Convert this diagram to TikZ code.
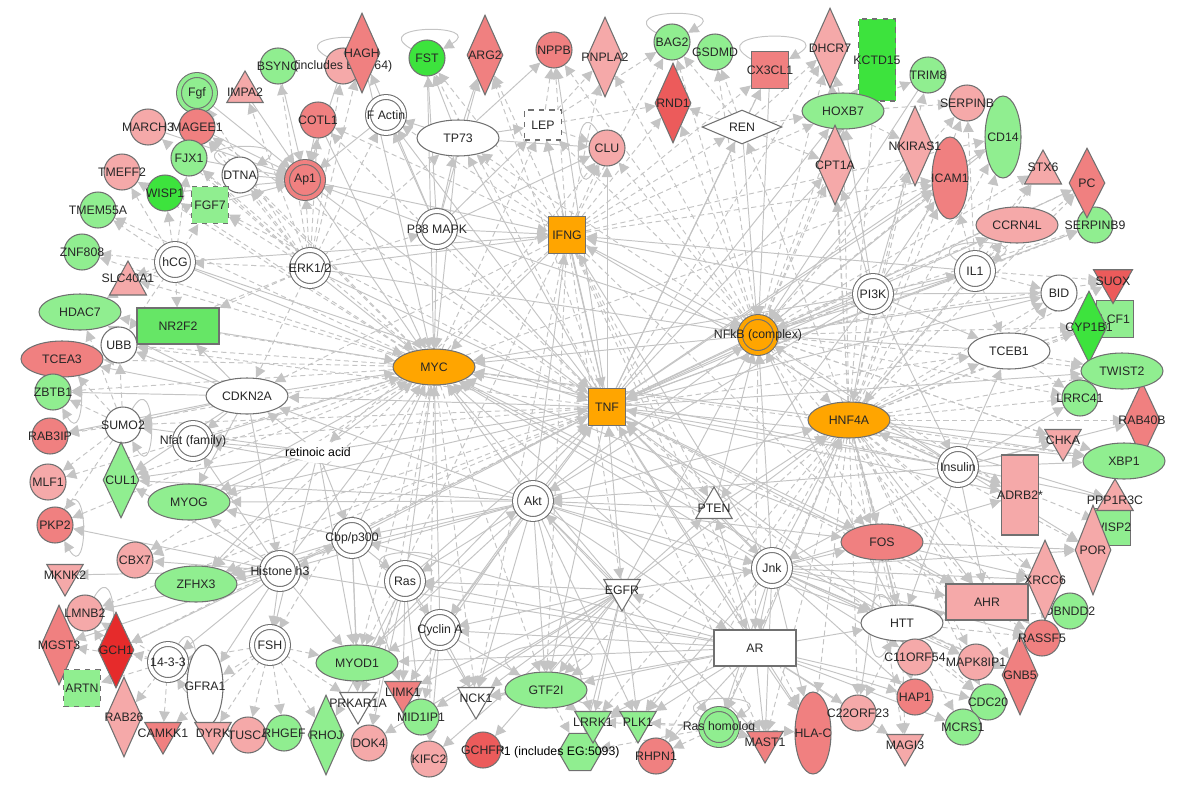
\documentclass[tikz,border=0pt]{standalone}
\usepackage{fontspec}
\setmainfont{Liberation Sans}
\usetikzlibrary{shapes.geometric, arrows.meta, backgrounds}

\definecolor{upL}{HTML}{F5A9A9}
\definecolor{upM}{HTML}{F08080}
\definecolor{upH}{HTML}{EC5B5B}
\definecolor{upX}{HTML}{E62B2B}
\definecolor{dnL}{HTML}{90EE90}
\definecolor{dnM}{HTML}{66E666}
\definecolor{dnH}{HTML}{3DE33D}
\definecolor{hub}{HTML}{FFA500}
\definecolor{rim}{HTML}{707070}
\definecolor{wire}{HTML}{C4C4C4}

\newcommand{\nm}[1]{\makebox[0pt]{#1}}

\begin{document}
\begin{tikzpicture}[
    x=0.02cm, y=-0.02cm,
    font=\fontsize{7}{8}\selectfont,
    base/.style={draw=rim, line width=0.6pt, inner sep=0pt, text=black!85},
    gc/.style={base, circle, minimum size=0.72cm},
    gdc/.style={gc, fill=#1, double=#1, double distance=2.2pt},
    ell/.style={base, ellipse, minimum width=1.64cm, minimum height=0.72cm},
    vell/.style={base, ellipse, minimum width=0.72cm, minimum height=1.64cm},
    dia/.style={base, diamond, minimum width=0.72cm, minimum height=1.6cm},
    box/.style={base, rectangle, minimum width=1.64cm, minimum height=0.72cm},
    vbox/.style={base, rectangle, minimum width=0.74cm, minimum height=1.6cm},
    sq/.style={base, rectangle, minimum size=0.74cm},
    tup/.style={base, regular polygon, regular polygon sides=3, minimum size=0.84cm},
    tdn/.style={tup, shape border rotate=180},
    trap/.style={base, trapezium, trapezium left angle=75, trapezium right angle=75,
        trapezium stretches=true, minimum width=0.74cm, minimum height=0.68cm},
    hexa/.style={base, regular polygon, regular polygon sides=6, minimum size=0.86cm},
    arr/.style={draw=wire, line width=0.55pt, -{Triangle[length=6pt, width=6pt]}},
    ind/.style={arr, dash pattern=on 3pt off 2pt},
    selfl/.style={draw=wire, line width=0.55pt, -{Triangle[length=6pt, width=6pt]}},
    every loop/.style={min distance=0.9cm, looseness=4}
]
\useasboundingbox (0,0) rectangle (1200,791);

    % Top arc ===========================
    \node[gc, fill=dnL] (BSYNC) at (278,66) {\nm{BSYNC}};
    \node[gc, fill=upL] (INCL) at (343,66) {\nm{(includes EG:564)}};
    \node[dia, fill=upM] (HAGH) at (362,53) {\nm{HAGH}};
    \node[gc, fill=dnH] (FST) at (427,58) {\nm{FST}};
    \node[dia, fill=upM] (ARG2) at (485,55) {\nm{ARG2}};
    \node[gc, fill=upM] (NPPB) at (554,50) {\nm{NPPB}};
    \node[dia, fill=upL] (PNPLA2) at (605,57) {\nm{PNPLA2}};
    \node[gc, fill=dnL] (BAG2) at (672,42) {\nm{BAG2}};
    \node[gc, fill=dnL] (GSDMD) at (715,52) {\nm{GSDMD}};
    \node[sq, fill=upM] (CX3CL1) at (770,70) {\nm{CX3CL1}};
    \node[dia, fill=upL] (DHCR7) at (830,48) {\nm{DHCR7}};
    \node[vbox, fill=dnH, dashed, minimum height=1.64cm] (KCTD15) at (877,60) {\nm{KCTD15}};
    \node[dia, fill=upH] (RND1) at (673,103) {\nm{RND1}};
    \node[ell, fill=dnL] (HOXB7) at (843,111) {\nm{HOXB7}};
    \node[dia, fill=white, minimum width=1.6cm, minimum height=0.68cm] (REN) at (742,127) {\nm{REN}};
    \node[sq, fill=white, dashed, minimum height=0.6cm] (LEP) at (543,125) {\nm{LEP}};
    \node[gc, fill=upL] (CLU) at (607,148) {\nm{CLU}};
    \node[dia, fill=upL] (CPT1A) at (835,165) {\nm{CPT1A}};
    \node[ell, fill=white] (TP73) at (458,138) {\nm{TP73}};
    \node[gdc=white] (FActin) at (386,115) {\nm{F Actin}};
    \node[gc, fill=upM] (COTL1) at (318,120) {\nm{COTL1}};

    % Upper left ===========================
    \node[tup, fill=upL] (IMPA2) at (245,92) {\nm{IMPA2}};
    \node[gdc=dnL] (Fgf) at (197,93) {\nm{Fgf}};
    \node[gc, fill=upL] (MARCH3) at (148,127) {\nm{MARCH3}};
    \node[gc, fill=upM] (MAGEE1) at (197,127) {\nm{MAGEE1}};
    \node[gc, fill=dnL] (FJX1) at (189,158) {\nm{FJX1}};
    \node[gc, fill=upL] (TMEFF2) at (122,172) {\nm{TMEFF2}};
    \node[gc, fill=white] (DTNA) at (240,175) {\nm{DTNA}};
    \node[gdc=upM] (Ap1) at (305,180) {\nm{Ap1}};
    \node[gc, fill=dnH] (WISP1) at (165,193) {\nm{WISP1}};
    \node[sq, fill=dnL, dashed] (FGF7) at (210,205) {\nm{FGF7}};
    \node[gc, fill=dnL] (TMEM55A) at (98,210) {\nm{TMEM55A}};
    \node[gc, fill=dnL] (ZNF808) at (82,252) {\nm{ZNF808}};
    \node[trap, fill=upL] (SLC40A1) at (128,278) {\nm{SLC40A1}};
    \node[gdc=white] (hCG) at (175,262) {\nm{hCG}};
    \node[gdc=white] (ERK) at (310,268) {\nm{ERK1/2}};
    \node[gdc=white] (P38) at (437,229) {\nm{P38 MAPK}};

    % Left side ===========================
    \node[ell, fill=dnL] (HDAC7) at (80,312) {\nm{HDAC7}};
    \node[box, fill=dnM] (NR2F2) at (178,326) {\nm{NR2F2}};
    \node[gc, fill=white] (UBB) at (119,345) {\nm{UBB}};
    \node[ell, fill=upM] (TCEA3) at (62,359) {\nm{TCEA3}};
    \node[gc, fill=dnL] (ZBTB1) at (53,392) {\nm{ZBTB1}};
    \node[gc, fill=upM] (RAB3IP) at (50,436) {\nm{RAB3IP}};
    \node[gc, fill=white] (SUMO2) at (123,425) {\nm{SUMO2}};
    \node[gdc=white] (Nfat) at (193,441) {\nm{Nfat (family)}};
    \node[ell, fill=white] (CDKN2A) at (247,396) {\nm{CDKN2A}};
    \node[dia, fill=dnL, minimum height=1.52cm] (CUL1) at (121,480) {\nm{CUL1}};
    \node[gc, fill=upL] (MLF1) at (48,482) {\nm{MLF1}};
    \node[ell, fill=dnL] (MYOG) at (189,502) {\nm{MYOG}};
    \node[gc, fill=upM] (PKP2) at (55,525) {\nm{PKP2}};
    \node[ellipse, fill=white, inner sep=0pt, minimum width=1cm, minimum height=0.44cm] (RA) at (318,452) {\nm{retinoic acid}};

    % Centre hubs ===========================
    \node[sq, fill=hub] (IFNG) at (567,235) {\nm{IFNG}};
    \node[ell, fill=hub] (MYC) at (434,367) {\nm{MYC}};
    \node[sq, fill=hub] (TNF) at (607,407) {\nm{TNF}};
    \node[gdc=hub] (NFkB) at (758,335) {\nm{NFkB (complex)}};
    \node[ell, fill=hub] (HNF4A) at (849,420) {\nm{HNF4A}};
    \node[gdc=white] (PI3K) at (873,294) {\nm{PI3K}};
    \node[gdc=white] (IL1) at (975,271) {\nm{IL1}};
    \node[gc, fill=white] (BID) at (1059,293) {\nm{BID}};
    \node[ell, fill=white] (TCEB1) at (1009,351) {\nm{TCEB1}};
    \node[gdc=white] (Insulin) at (958,467) {\nm{Insulin}};
    \node[gdc=white] (Akt) at (533,501) {\nm{Akt}};
    \node[tup, fill=white] (PTEN) at (714,508) {\nm{PTEN}};
    \node[tdn, fill=white] (EGFR) at (622,590) {\nm{EGFR}};
    \node[gdc=white] (Jnk) at (772,568) {\nm{Jnk}};
    \node[box, fill=white] (AR) at (755,648) {\nm{AR}};
    \node[ell, fill=white] (HTT) at (902,623) {\nm{HTT}};
    \node[ell, fill=upM] (FOS) at (882,542) {\nm{FOS}};
    \node[gdc=white] (Cbp) at (352,538) {\nm{Cbp/p300}};
    \node[gdc=white] (Ras) at (405,581) {\nm{Ras}};
    \node[gdc=white] (CyclinA) at (440,630) {\nm{Cyclin A}};
    \node[gdc=white] (Histone) at (280,571) {\nm{Histone h3}};

    % Lower left ===========================
    \node[gc, fill=upL] (CBX7) at (135,560) {\nm{CBX7}};
    \node[tdn, fill=upL] (MKNK2) at (65,575) {\nm{MKNK2}};
    \node[ell, fill=dnL] (ZFHX3) at (196,584) {\nm{ZFHX3}};
    \node[gc, fill=upL] (LMNB2) at (85,613) {\nm{LMNB2}};
    \node[dia, fill=upM] (MGST3) at (59,645) {\nm{MGST3}};
    \node[dia, fill=upX, minimum height=1.52cm] (GCH1) at (116,650) {\nm{GCH1}};
    \node[sq, fill=dnL, dashed] (ARTN) at (82,688) {\nm{ARTN}};
    \node[gdc=white] (n1433) at (168,662) {\nm{14-3-3}};
    \node[vell, fill=white] (GFRA1) at (205,686) {\nm{GFRA1}};
    \node[gdc=white] (FSH) at (270,645) {\nm{FSH}};
    \node[dia, fill=upL] (RAB26) at (124,717) {\nm{RAB26}};
    \node[tdn, fill=upM] (CAMKK1) at (163,733) {\nm{CAMKK1}};
    \node[tdn, fill=upL] (DYRK) at (213,733) {\nm{DYRK}};
    \node[gc, fill=upL] (TUSC4) at (248,735) {\nm{TUSC4}};
    \node[gc, fill=dnL] (RHGEF) at (284,733) {\nm{RHGEF}};
    \node[dia, fill=dnL] (RHOJ) at (326,735) {\nm{RHOJ}};

    % Bottom ===========================
    \node[ell, fill=dnL] (MYOD1) at (357,663) {\nm{MYOD1}};
    \node[tdn, fill=white] (PRKAR1A) at (358,703) {\nm{PRKAR1A}};
    \node[tdn, fill=upM] (LIMK1) at (403,692) {\nm{LIMK1}};
    \node[gc, fill=dnL] (MID1IP1) at (421,717) {\nm{MID1IP1}};
    \node[gc, fill=upL] (DOK4) at (369,743) {\nm{DOK4}};
    \node[gc, fill=upL] (KIFC2) at (429,759) {\nm{KIFC2}};
    \node[tdn, fill=white] (NCK1) at (476,698) {\nm{NCK1}};
    \node[ell, fill=dnL] (GTF2I) at (546,690) {\nm{GTF2I}};
    \node[hexa, fill=dnL, label={[xshift=-0.7cm]center:\nm{PCBP1 (includes EG:5093)}}] (PCBP1) at (580,752) {};
    \node[gc, fill=upH] (GCHFR) at (483,750) {\nm{GCHFR}};
    \node[tdn, fill=dnL] (LRRK1) at (593,722) {\nm{LRRK1}};
    \node[tdn, fill=dnL] (PLK1) at (638,722) {\nm{PLK1}};
    \node[gdc=dnL] (RasHom) at (719,727) {\nm{Ras homolog}};
    \node[gc, fill=upM] (RHPN1) at (656,756) {\nm{RHPN1}};
    \node[tdn, fill=upM] (MAST1) at (765,742) {\nm{MAST1}};
    \node[vell, fill=upM] (HLAC) at (813,733) {\nm{HLA-C}};
    \node[gc, fill=upL] (C22ORF23) at (858,713) {\nm{C22ORF23}};

    % Lower right ===========================
    \node[gc, fill=upL] (C11ORF54) at (915,657) {\nm{C11ORF54}};
    \node[gc, fill=upM] (HAP1) at (915,697) {\nm{HAP1}};
    \node[tdn, fill=upL] (MAGI3) at (905,745) {\nm{MAGI3}};
    \node[gc, fill=upL] (MAPK8IP1) at (976,662) {\nm{MAPK8IP1}};
    \node[gc, fill=dnL] (CDC20) at (988,702) {\nm{CDC20}};
    \node[gc, fill=dnL] (MCRS1) at (963,727) {\nm{MCRS1}};
    \node[dia, fill=upM] (GNB5) at (1020,675) {\nm{GNB5}};
    \node[gc, fill=upM] (RASSF5) at (1042,638) {\nm{RASSF5}};
    \node[gc, fill=dnL] (DBNDD2) at (1070,611) {\nm{DBNDD2}};
    \node[dia, fill=upL] (XRCC6) at (1045,580) {\nm{XRCC6}};
    \node[box, fill=upL] (AHR) at (987,602) {\nm{AHR}};
    \node[vbox, fill=upL] (ADRB2) at (1020,495) {\nm{ADRB2*}};
    \node[sq, fill=dnL] (WISP2) at (1112,527) {\nm{WISP2}};
    \node[dia, fill=upL, minimum height=1.8cm] (POR) at (1093,550) {\nm{POR}};
    \node[tup, fill=upL] (PPP1R3C) at (1115,500) {\nm{PPP1R3C}};

    % Right side ===========================
    \node[tdn, fill=upL] (CHKA) at (1063,440) {\nm{CHKA}};
    \node[dia, fill=upM, minimum height=1.52cm] (RAB40B) at (1142,420) {\nm{RAB40B}};
    \node[ell, fill=dnL] (XBP1) at (1124,461) {\nm{XBP1}};
    \node[gc, fill=dnL] (LRRC41) at (1080,398) {\nm{LRRC41}};
    \node[sq, fill=dnL] (LCF1) at (1115,319) {\nm{LCF1}};
    \node[dia, fill=dnH, minimum height=1.44cm] (CYP1B1) at (1089,327) {\nm{CYP1B1}};
    \node[ell, fill=dnL] (TWIST2) at (1122,371) {\nm{TWIST2}};
    \node[tdn, fill=upH, minimum size=0.9cm] (SUOX) at (1113,281) {\nm{SUOX}};
    \node[gc, fill=dnL] (SERPINB9) at (1095,225) {\nm{SERPINB9}};
    \node[dia, fill=upM, minimum height=1.4cm] (PC) at (1087,183) {\nm{PC}};
    \node[trap, fill=upL] (STX6) at (1043,167) {\nm{STX6}};
    \node[ell, fill=upL] (CCRN4L) at (1017,225) {\nm{CCRN4L}};
    \node[vell, fill=dnL] (CD14) at (1003,137) {\nm{CD14}};
    \node[gc, fill=upL] (SERPINB) at (967,103) {\nm{SERPINB}};
    \node[vell, fill=upM] (ICAM1) at (950,178) {\nm{ICAM1}};
    \node[gc, fill=dnL] (TRIM8) at (928,75) {\nm{TRIM8}};
    \node[dia, fill=upL] (NKIRAS1) at (915,146) {\nm{NKIRAS1}};

    % Relations ====================
    \begin{scope}[on background layer]
    % into the hubs
    \foreach \s in {FST, HAGH, COTL1, Ap1, hCG, NR2F2, CDKN2A, Nfat, RA, MYOG, Histone, Cbp, Ras,
        CyclinA, Akt, EGFR, PTEN, AR, HNF4A, NFkB, IFNG, TP73, P38, ERK, Jnk, PI3K, Insulin, FOS, HTT}
        \draw[arr] (\s) -- (MYC);
    \foreach \s in {IFNG, NFkB, P38, ERK, Jnk, Akt, PTEN, EGFR, AR, Insulin, PI3K, IL1, Ap1, hCG,
        RA, Histone, Cbp, Ras, HTT, MYOD1}
        \draw[arr] (\s) -- (TNF);
    \foreach \s in {PI3K, IL1, Akt, Jnk, Insulin, IFNG, CX3CL1, REN, NKIRAS1, CD14, TRIM8, BID,
        TCEB1, EGFR, PTEN, P38, ERK, HTT}
        \draw[arr] (\s) -- (NFkB);
    \foreach \s in {Insulin, PI3K, IL1, Jnk, AR, PTEN, EGFR, Akt}
        \draw[arr] (\s) -- (HNF4A);
    \foreach \s in {P38, ERK, Jnk, Akt, PI3K, Insulin, IL1, Ap1, hCG}
        \draw[arr] (\s) -- (IFNG);
    \foreach \s in {COTL1, INCL, BSYNC, DTNA, FGF7, IMPA2, Fgf, MAGEE1, FActin, MARCH3, FJX1, WISP1}
        \draw[arr] (\s) -- (Ap1);
    \foreach \s in {PTEN, PI3K, Insulin, EGFR, Ras}
        \draw[arr] (\s) -- (Akt);
    \foreach \s in {EGFR, PTEN, Insulin}
        \draw[arr] (\s) -- (Jnk);

    % out of the hubs
    \foreach \t in {FJX1, WISP1, TMEFF2, UBB, CUL1, MYOD1, CLU, LEP, KIFC2, NCK1, DOK4, GTF2I,
        ICAM1, XBP1, MAGEE1, DTNA, ZFHX3, FSH, CBX7, PKP2, MLF1, RAB3IP, TCEA3, HDAC7, ZBTB1,
        SLC40A1, TMEM55A, ZNF808}
        \draw[ind] (MYC) -- (\t);
    \foreach \t in {ICAM1, CD14, CCRN4L, SERPINB9, TWIST2, XBP1, FOS, HLAC, AHR, CX3CL1, CDKN2A,
        FActin, CLU, TP73, REN, LEP, NPPB, HOXB7, CPT1A, PC, BID, ADRB2, CyclinA, GTF2I, MYOG}
        \draw[arr] (TNF) -- (\t);
    \foreach \t in {UBB, SUMO2, Nfat, TCEB1, DHCR7, ARG2, FST, COTL1, MAGEE1, FGF7, GCH1, LMNB2,
        CBX7, ZFHX3, RASSF5, CDC20, MAST1}
        \draw[ind] (TNF) -- (\t);
    \foreach \t in {RND1, HOXB7, CPT1A, ICAM1, SERPINB, CCRN4L, PC, STX6, SERPINB9, SUOX, CYP1B1,
        TWIST2, LRRC41, CHKA, XBP1, ADRB2, FOS, AHR, AR, HNF4A, CLU, LEP, TP73, GSDMD, BAG2,
        DHCR7, KCTD15, PNPLA2, NPPB}
        \draw[ind] (NFkB) -- (\t);
    \foreach \t in {FOS, AHR, XBP1, HTT, CHKA, ADRB2, TCEB1, PPP1R3C}
        \draw[arr] (HNF4A) -- (\t);
    \foreach \t in {POR, XRCC6, RAB40B, TWIST2, LRRC41, CYP1B1, BID, C11ORF54, HAP1, MAPK8IP1,
        CDC20, GNB5, RASSF5, DBNDD2, MAGI3, C22ORF23, HLAC, MAST1, RasHom, RHPN1, PLK1, LRRK1,
        ICAM1, PC, SUOX, STX6, CCRN4L, CPT1A, DHCR7, KCTD15, HOXB7, REN, NKIRAS1, SERPINB, CD14,
        TRIM8, WISP2, GTF2I, LCF1}
        \draw[ind] (HNF4A) -- (\t);
    \foreach \t in {CLU, LEP, REN, TP73, FActin, COTL1, NPPB, ARG2, FST, PNPLA2, RND1, BAG2, HOXB7,
        CX3CL1, ICAM1, CD14, AR, EGFR, PTEN, FOS, HLAC, CDKN2A, RA, MYOD1, GTF2I, NCK1}
        \draw[ind] (IFNG) -- (\t);
    \foreach \t in {Cbp, CyclinA, Histone, Jnk, AR, CDKN2A, Nfat, MYOG, ZFHX3, MYOD1, LIMK1, NCK1,
        GTF2I, PLK1, LRRK1, RasHom, FOS, HTT, MAST1, CUL1}
        \draw[arr] (Akt) -- (\t);
    \foreach \t in {AR, HTT, AHR, FOS, MAPK8IP1, HAP1, C11ORF54, XRCC6, GNB5, RASSF5, HLAC, MAST1,
        RasHom, PLK1, ADRB2, POR}
        \draw[arr] (Jnk) -- (\t);
    \foreach \t in {HTT, C22ORF23, HLAC, MAST1, RasHom, RHPN1, PLK1, LRRK1, GTF2I, NCK1, CyclinA,
        Ras, Cbp, MYOD1, HAP1, MCRS1, CDC20, MAGI3, Histone, EGFR, PTEN}
        \draw[arr] (AR) -- (\t);
    \foreach \t in {Ras, CyclinA, PTEN, PLK1, LRRK1, NCK1, GTF2I, MID1IP1, LIMK1, PCBP1, GCHFR,
        KIFC2, DOK4}
        \draw[arr] (EGFR) -- (\t);

    % outer ring
    \foreach \t in {ZNF808, SLC40A1, HDAC7, NR2F2, UBB, FGF7, WISP1, TMEM55A, TMEFF2, FJX1}
        \draw[ind] (hCG) -- (\t);
    \foreach \t in {Ap1, DTNA, FGF7, Fgf, IMPA2, FJX1, MAGEE1, hCG, NR2F2, CDKN2A, UBB, P38, FActin,
        COTL1, TP73, BSYNC, INCL, HAGH, MARCH3}
        \draw[ind] (ERK) -- (\t);
    \foreach \t in {FActin, TP73, Ap1, FST, HAGH, ARG2, CLU, LEP}
        \draw[arr] (P38) -- (\t);
    \foreach \t in {UBB, SUMO2, Nfat, CUL1, MYOG, Histone, NR2F2, HDAC7, TCEA3, ZBTB1, RAB3IP}
        \draw[arr] (CDKN2A) -- (\t);
    \foreach \t in {ZBTB1, RAB3IP, MLF1, CUL1, UBB, TCEA3, PKP2, HDAC7}
        \draw[ind] (SUMO2) -- (\t);
    \foreach \t in {ZFHX3, CBX7, MKNK2, LMNB2, MGST3, GCH1, n1433, GFRA1, FSH, Cbp, MYOD1, Nfat,
        CUL1, MYOG, PKP2}
        \draw[arr] (Histone) -- (\t);
    \foreach \t in {GFRA1, n1433, TUSC4, RHGEF, RHOJ, PRKAR1A, DYRK, CAMKK1, MYOD1}
        \draw[ind] (FSH) -- (\t);
    \foreach \t in {ARTN, GCH1, RAB26, CAMKK1, GFRA1, LMNB2, MGST3}
        \draw[ind] (n1433) -- (\t);
    \foreach \t in {Ras, MYOD1, PRKAR1A, LIMK1, MYOG, ZFHX3}
        \draw[arr] (Cbp) -- (\t);
    \foreach \t in {CyclinA, LIMK1, MID1IP1, NCK1, DOK4, RHOJ, PRKAR1A}
        \draw[arr] (Ras) -- (\t);
    \foreach \t in {MYOD1, NCK1, GTF2I, KIFC2, MID1IP1}
        \draw[arr] (CyclinA) -- (\t);
    \foreach \t in {PLK1, MAST1, RHPN1, LRRK1, HLAC, PCBP1}
        \draw[ind] (RasHom) -- (\t);
    \foreach \t in {IL1, BID, TCEB1, Insulin, PTEN, NKIRAS1, ICAM1, CPT1A, HOXB7}
        \draw[arr] (PI3K) -- (\t);
    \foreach \t in {ADRB2, CHKA, XBP1, TCEB1, HTT, AHR, PPP1R3C, POR, LRRC41, RAB40B}
        \draw[arr] (Insulin) -- (\t);
    \foreach \t in {C11ORF54, HAP1, MAPK8IP1, AHR, XRCC6, RASSF5, GNB5, MCRS1, CDC20, MAGI3,
        C22ORF23, DBNDD2}
        \draw[ind] (HTT) -- (\t);
    \foreach \t in {BID, TCEB1, SUOX, CCRN4L, SERPINB9, STX6, PC, ICAM1, CD14, SERPINB}
        \draw[ind] (IL1) -- (\t);
    \foreach \t in {FActin, LEP, CLU, FST, ARG2, NPPB}
        \draw[arr] (TP73) -- (\t);
    \foreach \t in {CX3CL1, GSDMD, BAG2, RND1, HOXB7, CPT1A, DHCR7}
        \draw[ind] (REN) -- (\t);
    \foreach \t in {NPPB, PNPLA2, CLU, RND1, BAG2}
        \draw[ind] (LEP) -- (\t);
    \foreach \t in {KCTD15, DHCR7, TRIM8, NKIRAS1, CPT1A, SERPINB}
        \draw[ind] (HOXB7) -- (\t);
    \foreach \t in {MYOG, ZFHX3, CUL1, Nfat, Cbp, CDKN2A, FSH, MYOD1, SUMO2}
        \draw[arr] (RA) -- (\t);
    \foreach \t in {AHR, XRCC6, POR, HAP1, C22ORF23}
        \draw[arr] (FOS) -- (\t);
    \foreach \t in {CYP1B1, LRRC41, TWIST2, LCF1, BID}
        \draw[ind] (TCEB1) -- (\t);
    \foreach \t in {PLK1, LRRK1, PCBP1, NCK1}
        \draw[ind] (GTF2I) -- (\t);

    % self loops
    \foreach \n in {FST, INCL, BAG2, CX3CL1, DTNA, IL1, GTF2I, RasHom, Ras}
        \draw[selfl] (\n) to[out=150, in=30, loop] ();
    \foreach \n in {SUMO2, ZBTB1, PKP2, LMNB2, n1433}
        \draw[selfl] (\n) to[out=60, in=-60, loop] ();
    \foreach \n in {CLU, HTT}
        \draw[selfl] (\n) to[out=120, in=240, loop] ();
    \end{scope}

\end{tikzpicture}
\end{document}
